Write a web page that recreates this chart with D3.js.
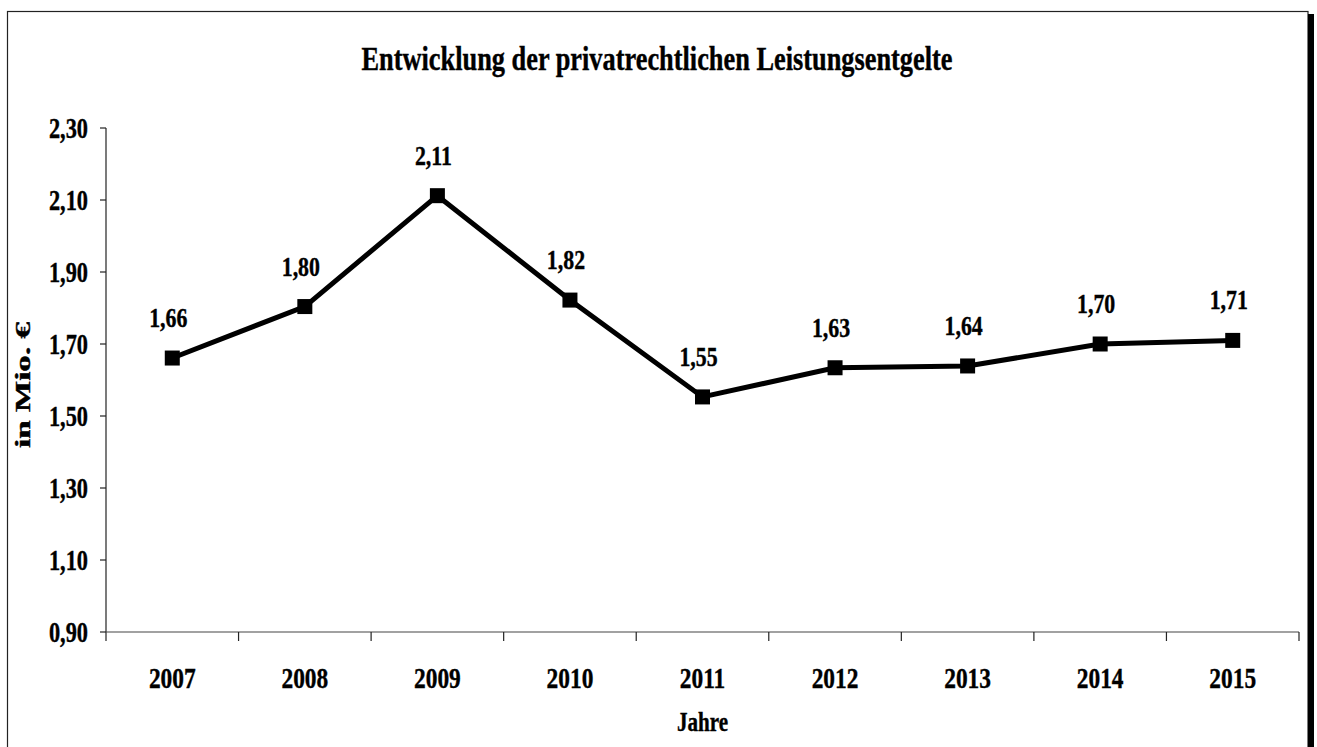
<!DOCTYPE html>
<html><head><meta charset="utf-8">
<script src="https://cdn.jsdelivr.net/npm/d3@7"></script>
<style>
html,body{margin:0;padding:0;background:#fff;overflow:hidden;width:1317px;height:747px;}
svg{display:block;}
text{font-family:"Liberation Serif","Times New Roman",serif;font-weight:bold;fill:#000;stroke:#000;stroke-width:0.4px;}
</style></head>
<body>
<svg id="chart" width="1317" height="747"></svg>
<script>
const title = "Entwicklung der privatrechtlichen Leistungsentgelte";
const yTitle = "in Mio. €";
const xTitle = "Jahre";
const years = ["2007","2008","2009","2010","2011","2012","2013","2014","2015"];
const values = [1.661, 1.804, 2.112, 1.822, 1.553, 1.634, 1.639, 1.700, 1.710];
const yTicks = [0.90, 1.10, 1.30, 1.50, 1.70, 1.90, 2.10, 2.30];

(function(){
const svg = d3.select("#chart");
const W = 1317, H = 747;
const pL = 106, pR = 1299, pT = 128, pB = 632;

// frame
svg.append("rect").attr("x",7.5).attr("y",11.5).attr("width",1300.5).attr("height",H)
  .attr("fill","#fff").attr("stroke","#222").attr("stroke-width",1.2);
svg.append("line").attr("x1",1311).attr("x2",1311).attr("y1",14).attr("y2",H)
  .attr("stroke","#000").attr("stroke-width",6);

const x = d3.scaleBand().domain(years).range([pL,pR]).padding(0);
const y = d3.scaleLinear().domain([0.9,2.3]).range([pB,pT]);
const fmt = v => d3.format(".2f")(v).replace(".",",");

function txt(g, s, px, py, fs, anchor, sx){
  return g.append("text")
    .attr("transform",`translate(${px},${py}) scale(${sx},1)`)
    .attr("text-anchor",anchor).attr("font-size",fs).text(s);
}

// title
svg.append("text").attr("x",657).attr("y",70).attr("text-anchor","middle")
  .attr("font-size",34).attr("textLength",591).attr("lengthAdjust","spacingAndGlyphs").text(title);

// y axis
const yAxis = svg.append("g");
yAxis.append("line").attr("x1",pL).attr("x2",pL).attr("y1",pT).attr("y2",pB+9)
  .attr("stroke","#222").attr("stroke-width",1.2);
yTicks.forEach(t=>{
  yAxis.append("line").attr("x1",pL-6).attr("x2",pL).attr("y1",y(t)).attr("y2",y(t))
    .attr("stroke","#222").attr("stroke-width",1.2);
  txt(yAxis, fmt(t), 88, y(t)+10, 29, "end", 0.77);
});

// x axis
const xAxis = svg.append("g");
xAxis.append("line").attr("x1",pL).attr("x2",pR).attr("y1",pB).attr("y2",pB)
  .attr("stroke","#444").attr("stroke-width",1.2);
years.forEach((yr,i)=>{
  const bx = x(yr) + x.bandwidth();
  xAxis.append("line").attr("x1",bx).attr("x2",bx).attr("y1",pB).attr("y2",pB+9)
    .attr("stroke","#222").attr("stroke-width",1.2);
  txt(xAxis, yr, x(yr)+x.bandwidth()/2, 688, 30, "middle", 0.78);
});

// axis titles
txt(svg, xTitle, (pL+pR)/2, 731, 27, "middle", 0.78);
svg.append("text").attr("transform",`translate(30,385) rotate(-90)`)
  .attr("text-anchor","middle").attr("font-size",20)
  .attr("textLength",126).attr("lengthAdjust","spacingAndGlyphs").text(yTitle);

// line
const cx = d => x(d) + x.bandwidth()/2;
const line = d3.line().x((d,i)=>cx(years[i])).y(d=>y(d));
svg.append("path").datum(values).attr("d",line).attr("fill","none")
  .attr("stroke","#000").attr("stroke-width",5).attr("stroke-linejoin","miter");

// markers
const ms = 15;
svg.selectAll("rect.m").data(values).enter().append("rect").attr("class","m")
  .attr("x",(d,i)=>cx(years[i])-ms/2).attr("y",d=>y(d)-ms/2)
  .attr("width",ms).attr("height",ms).attr("fill","#000");

// data labels
const lg = svg.append("g");
values.forEach((v,i)=>{
  txt(lg, fmt(v), cx(years[i])-4, y(v)-31, 28, "middle", 0.78);
});
})();
</script>
</body></html>
